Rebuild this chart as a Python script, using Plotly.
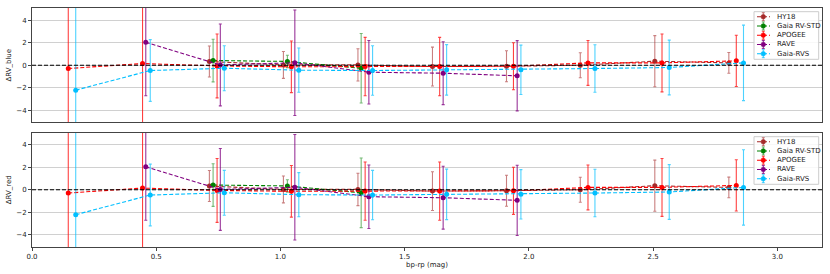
import plotly.graph_objects as go
from plotly.subplots import make_subplots

# ---- data ----
series_names = ["HY18", "Gaia RV-STD", "APOGEE", "RAVE", "Gaia-RVS"]
series_colors = ["#a52a2a", "#008000", "#ff0000", "#800080", "#00bfff"]
series_err_colors = ["rgba(165,42,42,0.6)", "rgba(0,128,0,0.55)", "rgba(255,0,0,0.75)",
                     "rgba(128,0,128,0.8)", "rgba(0,191,255,0.7)"]

hy18_x = [0.714, 1.012, 1.312, 1.612, 1.910, 2.207, 2.507, 2.805]
hy18_y = [0.33, 0.03, 0.03, -0.12, -0.09, 0.0, 0.36, 0.21]
hy18_e = [1.38, 1.2, 1.44, 1.73, 1.38, 1.11, 2.28, 0.92]

std_x = [0.729, 1.028, 1.325]
std_y = [0.42, 0.34, -0.27]
std_e = [1.9, 0.55, 3.1]

apogee_x = [0.146, 0.445, 0.745, 1.044, 1.341, 1.641, 1.938, 2.238, 2.536, 2.835]
apogee_y = [-0.29, 0.15, -0.06, -0.14, -0.12, -0.12, -0.09, 0.21, 0.21, 0.39]
apogee_e = [30.0, 30.0, 2.85, 2.3, 2.6, 2.6, 2.1, 2.0, 2.58, 2.28]

rave_x = [0.458, 0.758, 1.058, 1.356, 1.655, 1.953]
rave_y = [2.04, 0.03, 0.22, -0.62, -0.71, -0.94]
rave_e = [4.76, 3.65, 4.7, 2.83, 2.8, 3.13]

rvs_x = [0.176, 0.476, 0.774, 1.074, 1.371, 1.669, 1.968, 2.266, 2.565, 2.864]
rvs_y = [-2.22, -0.47, -0.27, -0.44, -0.47, -0.41, -0.41, -0.29, -0.2, 0.21]
rvs_e = [30.0, 2.75, 2.0, 1.97, 2.2, 2.25, 2.2, 2.12, 2.44, 3.36]

series_x = [hy18_x, std_x, apogee_x, rave_x, rvs_x]
series_y = [hy18_y, std_y, apogee_y, rave_y, rvs_y]
series_e = [hy18_e, std_e, apogee_e, rave_e, rvs_e]

x_ticks = [0.0, 0.5, 1.0, 1.5, 2.0, 2.5, 3.0]
y_ticks = [-4, -2, 0, 2, 4]
panel_titles = ["ΔRV_blue", "ΔRV_red"]

# ---- layout geometry (pixels) ----
W, H = 830, 274
ML, MR, MT, MB = 32, 8, 8, 27
PW, PH = W - ML - MR, H - MT - MB


def px_x(px):
    return (px - ML) / PW


def px_y(py):
    return (H - MB - py) / PH


fig = make_subplots(rows=2, cols=1, shared_xaxes=True, vertical_spacing=0.042)

for row in (1, 2):
    for name, col, ecol, xs, ys, es in zip(series_names, series_colors, series_err_colors,
                                           series_x, series_y, series_e):
        fig.add_trace(go.Scatter(
            x=xs, y=ys, name=name, mode="lines+markers", showlegend=False,
            line=dict(color=col, width=1.1, dash="4px,2px"),
            marker=dict(color=col, size=5),
            error_y=dict(type="data", array=es, visible=True, color=ecol,
                         thickness=1.1, width=1.5),
        ), row=row, col=1)
    fig.add_shape(type="line", xref="x domain" if row == 1 else "x2 domain",
                  yref="y" if row == 1 else "y2", x0=0, x1=1, y0=0, y1=0,
                  line=dict(color="black", width=1.1, dash="4px,2px"))

axis_font = dict(family="DejaVu Sans", size=7, color="#222")
for row in (1, 2):
    fig.update_yaxes(range=[-5.1, 5.1], tickvals=y_ticks,
                     ticktext=[("−" + str(-v)) if v < 0 else str(v) for v in y_ticks],
                     showgrid=True, gridcolor="#d0d0d0", gridwidth=1, zeroline=False,
                     showline=True, linecolor="#444", linewidth=1, mirror=True,
                     ticks="outside", ticklen=3, tickcolor="#444", tickfont=axis_font,
                     automargin=False,
                     title=dict(text=panel_titles[row - 1], font=axis_font, standoff=3),
                     row=row, col=1)
    fig.update_xaxes(range=[0, 3.18], tickvals=x_ticks,
                     ticktext=[f"{v:.1f}" for v in x_ticks],
                     showgrid=False, zeroline=False, automargin=False,
                     showline=True, linecolor="#444", linewidth=1, mirror=True,
                     ticks="outside" if row == 2 else "", ticklen=3, tickcolor="#444",
                     tickfont=axis_font, row=row, col=1)
fig.update_xaxes(title=dict(text="bp-rp (mag)", font=axis_font, standoff=0), row=2, col=1)

# ---- compact legends (one per panel), matplotlib style ----
shapes = []
annotations = []
for panel_offset in (0, 125):
    box_l, box_r = 754, 818.7
    box_t, box_b = 11.7 + panel_offset, 59.3 + panel_offset
    shapes.append(dict(type="rect", xref="paper", yref="paper",
                       x0=px_x(box_l), x1=px_x(box_r), y0=px_y(box_b), y1=px_y(box_t),
                       line=dict(color="#cccccc", width=1), fillcolor="rgba(255,255,255,0.85)",
                       layer="above"))
    for i, (name, col, ecol) in enumerate(zip(series_names, series_colors, series_err_colors)):
        yc = 16.7 + 9.25 * i + panel_offset
        shapes.append(dict(type="line", xref="paper", yref="paper",
                           x0=px_x(757), x1=px_x(770), y0=px_y(yc), y1=px_y(yc),
                           line=dict(color=col, width=1.1, dash="4px,2px"), layer="above"))
        shapes.append(dict(type="line", xref="paper", yref="paper",
                           x0=px_x(763.3), x1=px_x(763.3), y0=px_y(yc - 4), y1=px_y(yc + 4),
                           line=dict(color=ecol, width=1.1), layer="above"))
        for cap in (yc - 4, yc + 4):
            shapes.append(dict(type="line", xref="paper", yref="paper",
                               x0=px_x(761.8), x1=px_x(764.8), y0=px_y(cap), y1=px_y(cap),
                               line=dict(color=ecol, width=1), layer="above"))
        shapes.append(dict(type="circle", xref="paper", yref="paper",
                           x0=px_x(761), x1=px_x(765.6), y0=px_y(yc + 2.3), y1=px_y(yc - 2.3),
                           line=dict(color=col, width=0.5), fillcolor=col, layer="above"))
        annotations.append(dict(xref="paper", yref="paper", x=px_x(775), y=px_y(yc),
                                xanchor="left", yanchor="middle", showarrow=False,
                                text=name, font=dict(family="DejaVu Sans", size=7, color="#222")))

fig.update_layout(
    width=W, height=H,
    margin=dict(l=ML, r=MR, t=MT, b=MB),
    paper_bgcolor="white", plot_bgcolor="white",
    showlegend=False,
)
for s in shapes:
    fig.add_shape(**s)
for a in annotations:
    fig.add_annotation(**a)

fig.write_html("out.html",
               config={"displayModeBar": False},
               post_script="document.body.style.margin='0';document.body.style.overflow='hidden';")
